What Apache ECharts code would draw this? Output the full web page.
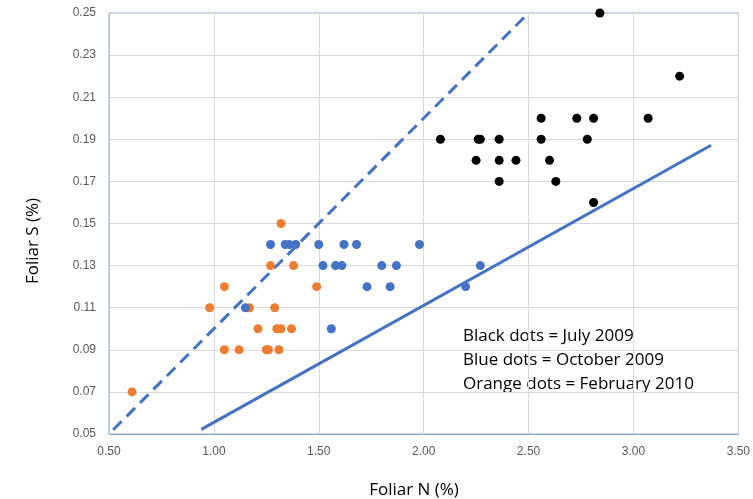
<!DOCTYPE html>
<html>
<head>
<meta charset="utf-8">
<script src="https://cdn.jsdelivr.net/npm/echarts@6/dist/echarts.min.js"></script>
<style>
html,body{margin:0;padding:0;background:#fff;}
#chart{width:753px;height:499px;}
</style>
</head>
<body>
<div id="chart"></div>
<script>
// Data (Foliar N %, Foliar S %)
const julyN = [2.84, 3.22, 2.56, 2.73, 2.81, 3.07, 2.08, 2.26, 2.27, 2.36, 2.56, 2.78, 2.25, 2.36, 2.44, 2.60, 2.36, 2.63, 2.81];
const julyS = [0.25, 0.22, 0.20, 0.20, 0.20, 0.20, 0.19, 0.19, 0.19, 0.19, 0.19, 0.19, 0.18, 0.18, 0.18, 0.18, 0.17, 0.17, 0.16];

const octN = [1.27, 1.34, 1.36, 1.39, 1.50, 1.62, 1.68, 1.98, 1.52, 1.58, 1.61, 1.80, 1.87, 2.27, 1.73, 1.84, 2.20, 1.15, 1.56];
const octS = [0.14, 0.14, 0.14, 0.14, 0.14, 0.14, 0.14, 0.14, 0.13, 0.13, 0.13, 0.13, 0.13, 0.13, 0.12, 0.12, 0.12, 0.11, 0.10];

const febN = [0.61, 1.32, 1.27, 1.38, 1.05, 1.49, 0.98, 1.17, 1.29, 1.21, 1.30, 1.32, 1.37, 1.05, 1.12, 1.25, 1.26, 1.31];
const febS = [0.07, 0.15, 0.13, 0.13, 0.12, 0.12, 0.11, 0.11, 0.11, 0.10, 0.10, 0.10, 0.10, 0.09, 0.09, 0.09, 0.09, 0.09];

// Reference lines (N:S = 10 dashed, N:S = 18 solid)
const dashedN = [0.52, 2.50];
const dashedS = [0.052, 0.25];
const solidN = [0.94, 3.37];
const solidS = [0.0522, 0.1872];

// Axis ticks
const xTicks = [0.50, 1.00, 1.50, 2.00, 2.50, 3.00, 3.50];
const yTicks = [0.05, 0.07, 0.09, 0.11, 0.13, 0.15, 0.17, 0.19, 0.21, 0.23, 0.25];

const annotations = ['Black dots = July 2009', 'Blue dots = October 2009', 'Orange dots = February 2010'];

// y axis is offset so that ticks start at a multiple of the interval
const Y0 = yTicks[0];
const yStep = +(yTicks[1] - yTicks[0]).toFixed(4);
const pairs = (xs, ys) => xs.map((x, i) => [x, +(ys[i] - Y0).toFixed(4)]);

const chart = echarts.init(document.getElementById('chart'), null, {renderer: 'canvas'});
const labelFont = 'Liberation Sans';
chart.setOption({
  animation: false,
  grid: {left: 109, right: 12, top: 13, bottom: 65, show: true, borderColor: '#8eaadb', borderWidth: 1},
  xAxis: {
    type: 'value', min: xTicks[0], max: xTicks[xTicks.length - 1], interval: +(xTicks[1] - xTicks[0]).toFixed(4),
    axisLine: {show: true, lineStyle: {color: '#8eaadb', width: 1}},
    axisTick: {show: false},
    axisLabel: {color: '#595959', fontSize: 12, fontFamily: labelFont, margin: 12, formatter: v => v.toFixed(2)},
    splitLine: {show: true, lineStyle: {color: '#d9d9d9', width: 1}}
  },
  yAxis: {
    type: 'value', min: 0, max: +(yTicks[yTicks.length - 1] - Y0).toFixed(4), interval: yStep,
    axisLine: {show: true, lineStyle: {color: '#bfbfbf', width: 1}},
    axisTick: {show: false},
    axisLabel: {color: '#595959', fontSize: 12, fontFamily: labelFont, margin: 13, formatter: v => (v + Y0).toFixed(2)},
    splitLine: {show: true, lineStyle: {color: '#d9d9d9', width: 1}}
  },
  series: [
    {type: 'line', data: pairs(dashedN, dashedS), symbol: 'none', lineStyle: {color: '#4472c4', width: 3, type: [12, 7]}, z: 2},
    {type: 'line', data: pairs(solidN, solidS), symbol: 'none', lineStyle: {color: '#4472c4', width: 3}, z: 2},
    {type: 'scatter', data: pairs(febN, febS), symbolSize: 9, itemStyle: {color: '#ed7d31', opacity: 1}, z: 3},
    {type: 'scatter', data: pairs(octN, octS), symbolSize: 9, itemStyle: {color: '#4472c4', opacity: 1}, z: 3},
    {type: 'scatter', data: pairs(julyN, julyS), symbolSize: 9, itemStyle: {color: '#000000', opacity: 1}, z: 3}
  ],
  graphic: [
    {type: 'text', x: 414, y: 490, style: {text: 'Foliar N (%)', fontSize: 17, fontFamily: 'Open Sans', fill: '#000', align: 'center', verticalAlign: 'middle'}},
    {type: 'text', x: 33, y: 241, rotation: Math.PI / 2, style: {text: 'Foliar S (%)', fontSize: 17, fontFamily: 'Open Sans', fill: '#000', align: 'center', verticalAlign: 'middle'}},
    ...annotations.map((t, i) => ({type: 'text', x: 463, y: 336 + i * 24, style: {text: t, fontSize: 17, fontFamily: 'Open Sans', fill: '#000', align: 'left', verticalAlign: 'middle'}}))
  ]
});
</script>
</body>
</html>
